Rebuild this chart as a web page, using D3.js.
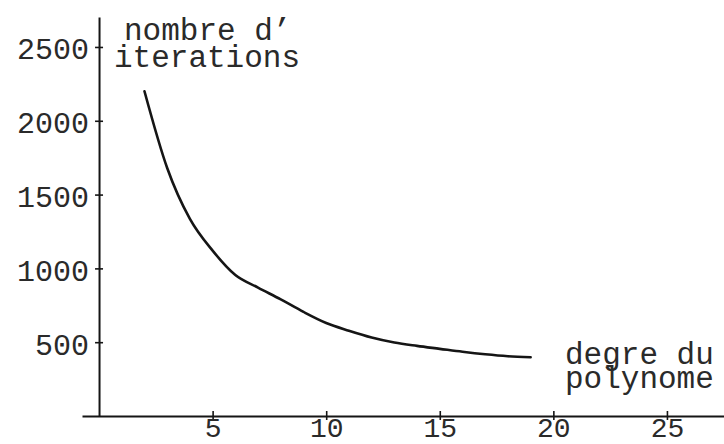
<!DOCTYPE html>
<html>
<head>
<meta charset="utf-8">
<script src="https://cdn.jsdelivr.net/npm/d3@7"></script>
<style>
  html, body { margin: 0; padding: 0; background: #fff; }
  svg { display: block; }
  text { font-family: "Liberation Mono", "DejaVu Sans Mono", monospace; fill: #2a2a2a; }
</style>
</head>
<body>
<svg id="chart" width="724" height="444"></svg>
<script>
// Data
const degrees = [2, 3, 4, 5, 6, 7, 8, 9, 10, 11, 12, 13, 14, 15, 16, 17, 18, 19];
const iterations = [2200, 1680, 1335, 1120, 955, 870, 790, 705, 630, 578, 532, 498, 475, 455, 435, 418, 405, 398];
const xTicks = [5, 10, 15, 20, 25];
const yTicks = [500, 1000, 1500, 2000, 2500];
const yTitle = ["nombre d\u2019", "iterations"];
const xTitle = ["degre du", "polynome"];

const svg = d3.select("#chart");
const ink = "#151515";

const x = d3.scaleLinear().domain([-0.75, 27.6]).range([82, 726]);
const y = d3.scaleLinear().domain([0, 2703]).range([416, 17]);

// X axis
const gx = svg.append("g")
  .attr("transform", `translate(0,${y(0)})`)
  .call(d3.axisBottom(x).tickValues(xTicks).tickFormat(d3.format("d"))
    .tickSizeOuter(0).tickSizeInner(0).tickPadding(0));
gx.select(".domain").attr("stroke", ink).attr("stroke-width", 2);
gx.selectAll(".tick line").attr("stroke", ink).attr("stroke-width", 1.6).attr("y1", -5).attr("y2", 4);
gx.selectAll(".tick text")
  .attr("y", 21).attr("dy", 0)
  .style("font-size", "28px")
  .attr("fill", "#2a2a2a");

// Y axis
const gy = svg.append("g")
  .attr("transform", `translate(${x(0)},0)`)
  .call(d3.axisLeft(y).tickValues(yTicks).tickFormat(d3.format("d"))
    .tickSizeOuter(0).tickSizeInner(0).tickPadding(0));
gy.select(".domain").attr("stroke", ink).attr("stroke-width", 2);
gy.selectAll(".tick line").attr("stroke", ink).attr("stroke-width", 1.6).attr("x1", -4).attr("x2", 4);
gy.selectAll(".tick text")
  .attr("x", -10).attr("dy", "0.4em")
  .style("font-size", "30px")
  .attr("fill", "#2a2a2a");

// Curve
const line = d3.line()
  .x((d, i) => x(degrees[i]))
  .y(d => y(d))
  .curve(d3.curveMonotoneX);
svg.append("path")
  .datum(iterations)
  .attr("d", line)
  .attr("fill", "none")
  .attr("stroke", ink)
  .attr("stroke-width", 2.6)
  .attr("stroke-linejoin", "round")
  .attr("stroke-linecap", "round");

// Axis titles (two lines each, one text element)
function twoLine(xs, y0, lines, gap) {
  const t = svg.append("text").attr("y", y0).style("font-size", "31px");
  lines.forEach((s, i) => {
    t.append("tspan").attr("x", xs[i]).attr("y", y0 + i * gap).text(s);
  });
}
twoLine([124, 114], 40, yTitle, 27);
twoLine([565, 565], 364, xTitle, 24);
</script>
</body>
</html>
